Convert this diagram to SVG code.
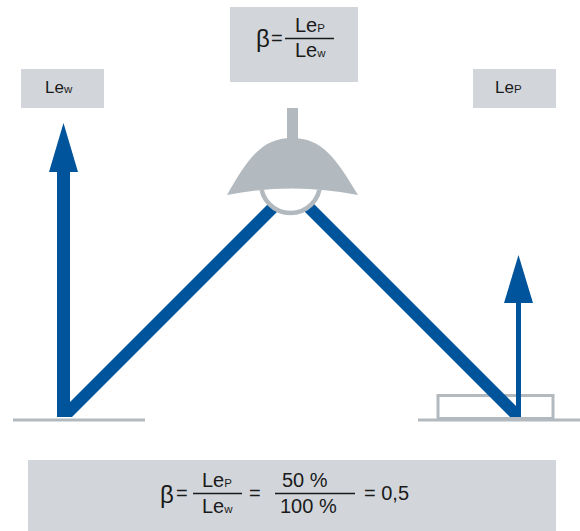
<svg xmlns="http://www.w3.org/2000/svg" width="580" height="531" viewBox="0 0 580 531">
  <defs>
    <style>
      .box { fill: #d2d6da; }
      .blue { fill: #00549c; }
      .grey { fill: #b3babf; }
      .ground { stroke: #b3babf; stroke-width: 3; fill: none; }
      text { font-family: "Liberation Sans", Arial, sans-serif; fill: #1a1a1a; }
      .t { font-size: 20px; }
      .s { font-size: 11.5px; }
      .beta { font-size: 24px; }
      .rule { stroke: #1a1a1a; stroke-width: 1.4; }
    </style>
    <clipPath id="belowShade">
      <path d="M0,0 H580 V531 H0 Z M227,195 Q292,182 358,195 V0 H227 Z" clip-rule="evenodd"/>
    </clipPath>
  </defs>
  <rect width="580" height="531" fill="#ffffff"/>

  <!-- label: ratio formula above the lamp -->
  <g id="formula-top">
    <rect class="box" x="230" y="7" width="128" height="75"/>
    <text class="beta" x="256" y="47">β</text>
    <text class="t" x="271" y="45">=</text>
    <line class="rule" x1="285" y1="38.5" x2="334" y2="38.5"/>
    <text x="295" y="32"><tspan class="t">Le</tspan><tspan class="s">P</tspan></text>
    <text x="295" y="57"><tspan class="t">Le</tspan><tspan class="s">w</tspan></text>
  </g>

  <!-- label: white reference -->
  <g id="label-lew">
    <rect class="box" x="21" y="69" width="83" height="39"/>
    <text x="45" y="93"><tspan style="font-size:17px">Le</tspan><tspan class="s">w</tspan></text>
  </g>

  <!-- label: sample -->
  <g id="label-lep">
    <rect class="box" x="473" y="69" width="83" height="39"/>
    <text x="495" y="93"><tspan style="font-size:17px">Le</tspan><tspan class="s">P</tspan></text>
  </g>

  <!-- ground lines and sample slab -->
  <g id="ground">
    <line class="ground" x1="13" y1="420" x2="145" y2="420"/>
    <line class="ground" x1="418" y1="420" x2="580" y2="420"/>
    <rect class="ground" x="438" y="395.5" width="115" height="23"/>
  </g>

  <!-- light paths -->
  <g id="connectors">
    <polygon class="blue" points="57,170 70,170 70,402 272,200 289,200 72,417 57,417"/>
    <polygon class="blue" points="63.5,123 78,172 49,172"/>
    <polygon class="blue" points="510,417 521,417 521,411 310,200 293,200"/>
    <rect class="blue" x="516" y="300" width="5" height="117"/>
    <polygon class="blue" points="518.5,255 533,303 504,303"/>
  </g>

  <!-- lamp -->
  <g id="lamp">
    <rect class="grey" x="287" y="108" width="11" height="34"/>
    <circle cx="290.5" cy="183.5" r="29.5" fill="#ffffff" stroke="#b3babf" stroke-width="4.5" clip-path="url(#belowShade)"/>
    <path class="grey" d="M227,195 C248,158 262,138 292,138 C322,138 336,158 358,195 Q292,182 227,195 Z"/>
  </g>

  <!-- label: worked example -->
  <g id="formula-bottom">
    <rect class="box" x="28" y="460" width="528" height="71"/>
    <text class="beta" x="160" y="503">β</text>
    <text class="t" x="176" y="500">=</text>
    <line class="rule" x1="193" y1="493.5" x2="242" y2="493.5"/>
    <text x="202" y="487"><tspan class="t">Le</tspan><tspan class="s">P</tspan></text>
    <text x="202" y="513"><tspan class="t">Le</tspan><tspan class="s">w</tspan></text>
    <text class="t" x="249" y="500">=</text>
    <line class="rule" x1="275" y1="493.5" x2="355" y2="493.5"/>
    <text class="t" x="282" y="487">50 %</text>
    <text class="t" x="280" y="513">100 %</text>
    <text class="t" x="364" y="500">= 0,5</text>
  </g>
</svg>
